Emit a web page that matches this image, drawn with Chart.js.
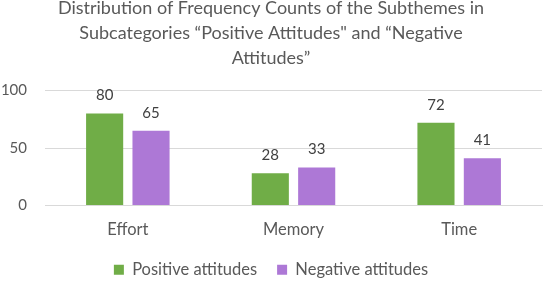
<!DOCTYPE html>
<html>
<head>
<meta charset="utf-8">
<script src="https://cdn.jsdelivr.net/npm/chart.js@4/dist/chart.umd.min.js"></script>
<style>
  html, body { margin: 0; padding: 0; background: #fff; overflow: hidden; }
  #wrap { position: absolute; left: 0; top: -12px; width: 546px; height: 300px; }
</style>
</head>
<body>
<div id="wrap"><canvas id="chart"></canvas></div>
<script>
// data
const categories = ["Effort", "Memory", "Time"];
const positiveAttitudes = [80, 28, 72];
const negativeAttitudes = [65, 33, 41];
const yTicks = [0, 50, 100];
const titleLines = [
  "Distribution of Frequency Counts of the Subthemes in",
  "Subcategories \u201cPositive Attitudes\" and \u201cNegative",
  "Attitudes\u201d"
];

const textColor = "#595959";
const fontFamily = "Lato, 'Noto Sans', sans-serif";

// value labels above each bar
const barLabels = {
  id: "barLabels",
  afterDatasetsDraw(chart) {
    const ctx = chart.ctx;
    ctx.save();
    ctx.fillStyle = "#404040";
    ctx.font = "15px " + fontFamily;
    ctx.textAlign = "center";
    ctx.textBaseline = "middle";
    chart.data.datasets.forEach((ds, i) => {
      const meta = chart.getDatasetMeta(i);
      meta.data.forEach((bar, j) => {
        ctx.fillText(ds.data[j], bar.x, bar.y - 18);
      });
    });
    ctx.restore();
  }
};

new Chart(document.getElementById("chart"), {
  type: "bar",
  data: {
    labels: categories,
    datasets: [
      {
        label: "Positive attitudes",
        data: positiveAttitudes,
        backgroundColor: "#70AD47",
        categoryPercentage: 0.56,
        barPercentage: 0.8
      },
      {
        label: "Negative attitudes",
        data: negativeAttitudes,
        backgroundColor: "#AD78D6",
        categoryPercentage: 0.56,
        barPercentage: 0.8
      }
    ]
  },
  options: {
    responsive: true,
    maintainAspectRatio: false,
    animation: false,
    layout: { padding: { left: 0, right: 4, bottom: 0 } },
    plugins: {
      title: {
        display: true,
        text: titleLines,
        color: textColor,
        font: { family: fontFamily, size: 18, weight: "normal", lineHeight: 1.38 },
        padding: { top: 8, bottom: 20 }
      },
      legend: {
        position: "bottom",
        labels: {
          color: textColor,
          font: { family: fontFamily, size: 16.5 },
          boxWidth: 10,
          boxHeight: 10,
          padding: 20
        }
      },
      tooltip: { enabled: false }
    },
    scales: {
      x: {
        grid: { display: false },
        border: { color: "#d9d9d9" },
        ticks: { color: textColor, font: { family: fontFamily, size: 16.5 }, padding: 6 },
        afterFit(axis) {
          axis.height = 36;
        }
      },
      y: {
        min: 0,
        max: 100,
        afterBuildTicks(axis) {
          axis.ticks = yTicks.map(v => ({ value: v }));
        },
        afterFit(axis) {
          axis.width = 45;
        },
        grid: { color: "#d9d9d9", drawTicks: false },
        border: { display: false },
        ticks: { color: textColor, font: { family: fontFamily, size: 15 }, padding: 18 }
      }
    }
  },
  plugins: [barLabels]
});
</script>
</body>
</html>
